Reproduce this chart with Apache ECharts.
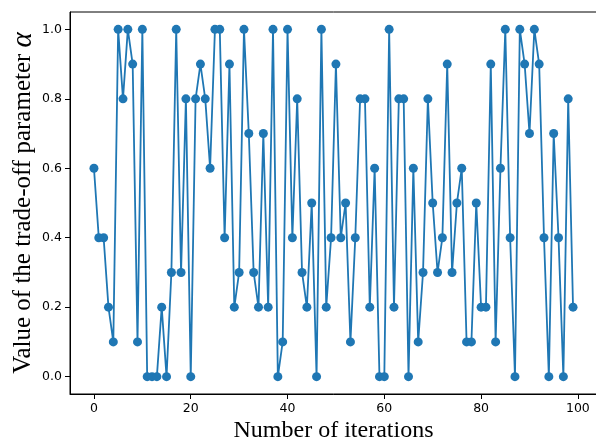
<!DOCTYPE html>
<html>
<head>
<meta charset="utf-8">
<script src="https://cdn.jsdelivr.net/npm/echarts@6/dist/echarts.min.js"></script>
<style>html,body{margin:0;padding:0;background:#fff;}#c{width:596px;height:442px;}</style>
</head>
<body>
<div id="c"></div>
<script>
const iterations = Array.from({length: 100}, (_, i) => i);
const alphaValues = [
  0.6, 0.4, 0.4, 0.2, 0.1, 1.0, 0.8, 1.0, 0.9, 0.1,
  1.0, 0.0, 0.0, 0.0, 0.2, 0.0, 0.3, 1.0, 0.3, 0.8,
  0.0, 0.8, 0.9, 0.8, 0.6, 1.0, 1.0, 0.4, 0.9, 0.2,
  0.3, 1.0, 0.7, 0.3, 0.2, 0.7, 0.2, 1.0, 0.0, 0.1,
  1.0, 0.4, 0.8, 0.3, 0.2, 0.5, 0.0, 1.0, 0.2, 0.4,
  0.9, 0.4, 0.5, 0.1, 0.4, 0.8, 0.8, 0.2, 0.6, 0.0,
  0.0, 1.0, 0.2, 0.8, 0.8, 0.0, 0.6, 0.1, 0.3, 0.8,
  0.5, 0.3, 0.4, 0.9, 0.3, 0.5, 0.6, 0.1, 0.1, 0.5,
  0.2, 0.2, 0.9, 0.1, 0.6, 1.0, 0.4, 0.0, 1.0, 0.9,
  0.7, 1.0, 0.9, 0.4, 0.0, 0.7, 0.4, 0.0, 0.8, 0.2
];
const xTicks = [0, 20, 40, 60, 80, 100];
const yTicks = [0.0, 0.2, 0.4, 0.6, 0.8, 1.0];

const chart = echarts.init(document.getElementById('c'));
const tickFont = {fontFamily: 'DejaVu Sans', fontSize: 12.5, color: '#000'};
chart.setOption({
  animation: false,
  grid: {left: 70, top: 12, width: 527, height: 382, show: true, borderColor: '#000', borderWidth: 1,
    containLabel: false, outerBoundsMode: 'none'},
  xAxis: {
    type: 'value', min: -4.95, max: 103.95,
    name: 'Number of iterations', nameLocation: 'middle', nameGap: 25,
    nameMoveOverlap: false,
    nameTextStyle: {fontFamily: 'Liberation Serif', fontSize: 24, color: '#000'},
    axisLine: {show: true, onZero: false, lineStyle: {color: '#000', width: 1}},
    axisTick: {show: true, length: 5, customValues: xTicks, lineStyle: {color: '#000'}},
    axisLabel: Object.assign({margin: 8, customValues: xTicks, formatter: v => String(v)}, tickFont),
    splitLine: {show: false}
  },
  yAxis: {
    type: 'value', min: -0.05, max: 1.05,
    name: 'Value of the trade-off parameter {a|α}', nameLocation: 'middle', nameGap: 32,
    nameMoveOverlap: false,
    nameTextStyle: {fontFamily: 'Liberation Serif', fontSize: 25, color: '#000',
      rich: {a: {fontFamily: 'Liberation Serif', fontStyle: 'italic', fontSize: 29, color: '#000'}}},
    axisLine: {show: true, onZero: false, lineStyle: {color: '#000', width: 1}},
    axisTick: {show: true, length: 5, customValues: yTicks, lineStyle: {color: '#000'}},
    axisLabel: Object.assign({margin: 8, customValues: yTicks, formatter: v => v.toFixed(1)}, tickFont),
    splitLine: {show: false}
  },
  series: [{
    type: 'line',
    data: iterations.map((x, i) => [x, alphaValues[i]]),
    symbol: 'circle', symbolSize: 9,
    lineStyle: {color: '#1f77b4', width: 1.8},
    itemStyle: {color: '#1f77b4'},
    clip: false
  }]
});
</script>
</body>
</html>
